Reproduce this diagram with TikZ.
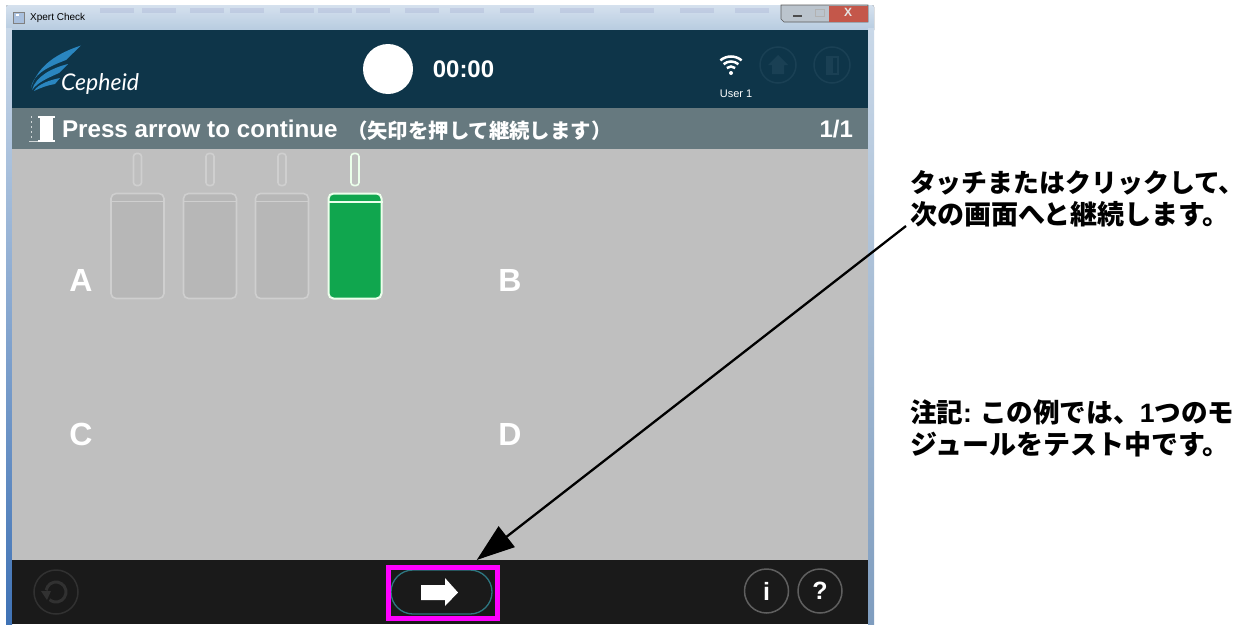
\documentclass[tikz,border=0pt]{standalone}
\usepackage{fontspec}
\setmainfont{Liberation Sans}
\newfontfamily\jp{Noto Sans CJK JP}
\newfontfamily\logofont{Lato}
\usetikzlibrary{arrows.meta,calc}
\definecolor{hdr}{HTML}{0E3549}
\definecolor{bar}{HTML}{66797F}
\definecolor{body}{HTML}{BFBFBF}
\definecolor{blk}{HTML}{1A1A1A}
\definecolor{grn}{HTML}{10A64E}
\definecolor{tubefill}{HTML}{B7B7B7}
\definecolor{tubeline}{HTML}{CFCFCF}
\definecolor{dimring}{HTML}{1A4054}
\definecolor{logoblue}{HTML}{2A86C0}
\definecolor{mag}{HTML}{FF00FF}
\definecolor{framepale}{HTML}{C9D8E8}
\definecolor{frameblue}{HTML}{3F72B5}
\definecolor{frameright}{HTML}{7F9DBF}
\definecolor{titletop}{HTML}{D5E1EE}
\definecolor{titlebot}{HTML}{B5CADF}
\definecolor{closered}{HTML}{C4574A}
\tikzset{
  txt/.style={inner sep=0pt,outer sep=0pt,text=white,font=\bfseries},
  note/.style={inner sep=0pt,outer sep=0pt,anchor=west,text=black,font=\fontsize{27}{31}\selectfont\bfseries},
  tubebox/.style={draw=tubeline,fill=tubefill,line width=1.6pt,rounded corners=5pt,minimum width=53pt,minimum height=105pt,inner sep=0pt},
  pillbox/.style={draw=tubeline,line width=1.6pt,rounded corners=3pt,minimum width=8pt,minimum height=32pt,inner sep=0pt},
  letter/.style={txt,font=\fontsize{32}{32}\selectfont\bfseries},
  ring/.style={circle,line width=1.5pt,minimum size=#1,inner sep=0pt},
}
\begin{document}
\begin{tikzpicture}[x=1pt,y=-1pt]
\useasboundingbox (0,0) rectangle (1248,624);
\fill[white] (0,0) rectangle (1248,624);
% window frame
\fill[top color=titletop,bottom color=titlebot,rounded corners=2pt] (6,5) rectangle (874,32);
\foreach \sx in {100,142,190,230,280,318,356,405,450,500,560,620,680,735}
  \fill[gray!70!blue,opacity=.12] (\sx,8) rectangle ++(34,5);
\fill[top color=framepale,bottom color=frameblue] (6,28) rectangle (12,624);
\fill[top color=framepale,bottom color=frameright] (868,28) rectangle (874,624);
\fill[hdr] (12,30) rectangle (868,108);
\fill[bar] (12,108) rectangle (868,149);
\fill[body] (12,149) rectangle (868,560);
\fill[blk] (12,560) rectangle (868,624);
% title bar
\node[draw=gray,fill=frameblue!45,minimum size=11pt,inner sep=0pt,line width=.5pt] (appicon) at (19,18) {};
\fill[white] (16,13.5) rectangle (19,16);
\node[inner sep=0pt,anchor=west,font=\fontsize{10}{10}\selectfont] (title) at (30,18) {Xpert Check};
\fill[titletop!70!gray,draw=gray!70!black,line width=.6pt] (781,5) -- (781,19) -- (784,22) -- (868,22) -- (868,5) -- cycle;
\fill[closered] (829,5.5) rectangle (867.5,21.5);
\draw[gray!60!black,line width=2pt] (793,16) -- (802,16);
\draw[gray!60,line width=.8pt] (815,9) rectangle (824,16);
\node[txt,font=\fontsize{12}{12}\selectfont\bfseries,text=white!90!black] (closex) at (848,12.5) {X};
% logo
\fill[logoblue] (81,45.5) .. controls (58,53) and (38,65) .. (31,88) .. controls (33,75) and (45,68) .. (66,60) -- cycle;
\fill[logoblue] (68,64) .. controls (52,68) and (36,76) .. (32,90) .. controls (38,82) and (48,78) .. (59,73) -- cycle;
\fill[logoblue] (60,78) .. controls (50,80) and (38,84) .. (34,91) .. controls (40,88) and (48,85) .. (55,84) -- cycle;
\node[inner sep=0pt,text=white,font=\logofont\itshape\fontsize{23}{23}\selectfont] (logo) at (100,84) {Cepheid};
% header
\node[circle,fill=white,minimum size=50pt,inner sep=0pt] (dot) at (388,69) {};
\node[txt,font=\fontsize{24}{24}\selectfont\bfseries] (time) at (463.5,69) {00:00};
\node[inner sep=0pt,minimum size=1pt] (wifi) at (731,73) {};
\fill[white] (wifi) circle (2pt);
\foreach \r in {6.5,11.5,16.5}
  \draw[white,line width=2.5pt] ($(wifi)+({cos(130)*\r},{-sin(130)*\r})$) arc[start angle=130,end angle=50,radius=\r pt];
\node[txt,font=\fontsize{11}{11}\selectfont] (user) at (736,94) {User 1};
\node[ring=36pt,draw=dimring] (home) at (778,65) {};
\fill[dimring] (778,55) -- (768,65) -- (772,65) -- (772,74) -- (784,74) -- (784,65) -- (788,65) -- cycle;
\node[ring=36pt,draw=dimring] (exit) at (832,65) {};
\fill[dimring] (826,56) rectangle (839,75);
\fill[hdr] (833,58) rectangle (837,73);
% bar
\node[inner sep=0pt,fill=white,minimum width=13pt,minimum height=26pt] (cart) at (46.5,128.5) {};
\fill[white] (38,115.5) rectangle (55,118);
\fill[white] (38,139.5) rectangle (55,142);
\draw[white!70!bar,line width=1pt,dash pattern=on 1.5pt off 3.5pt] (31,116) -- (31,142);
\draw[white!70!bar,line width=1pt] (29,141.5) -- (38,141.5);
\node[txt,anchor=west,font=\fontsize{24.2}{24}\selectfont\bfseries] (press) at (62,129) {Press arrow to continue};
\node[txt,anchor=west,font=\jp\fontsize{20.4}{20}\selectfont\bfseries] (pressjp) at (347,131) {（矢印を押して継続します）};
\node[txt,anchor=east,font=\fontsize{24}{24}\selectfont\bfseries] (page) at (853,129) {1/1};
% tubes
\node[tubebox] (t1) at (137.5,246) {};
\node[tubebox] (t2) at (210,246) {};
\node[tubebox] (t3) at (282,246) {};
\node[tubebox,fill=grn,draw=white!92!green,line width=2pt] (t4) at (355,246) {};
\draw[tubeline,line width=1.4pt] (t1.north west|-0,201.5) -- (t1.north east|-0,201.5);
\draw[tubeline,line width=1.4pt] (t2.north west|-0,201.5) -- (t2.north east|-0,201.5);
\draw[tubeline,line width=1.4pt] (t3.north west|-0,201.5) -- (t3.north east|-0,201.5);
\draw[white!92!green,line width=2pt] (t4.north west|-0,201.5) -- (t4.north east|-0,201.5);
\node[pillbox] (p1) at (137.5,169.5) {};
\node[pillbox] (p2) at (210,169.5) {};
\node[pillbox] (p3) at (282,169.5) {};
\node[pillbox,draw=white!92!green] (p4) at (355,169.5) {};
\node[letter] (A) at (81,280) {A};
\node[letter] (B) at (510,280) {B};
\node[letter] (C) at (81,434) {C};
\node[letter] (D) at (510,434) {D};
% bottom
\node[ring=44pt,draw=white!10!blk] (reload) at (56,592) {};
\draw[white!10!blk,line width=3pt] ($(reload)+({cos(170)*10},{-sin(170)*10})$) arc[start angle=170,end angle=-130,radius=10pt];
\fill[white!10!blk] (41,591) -- (51,591) -- (47,600) -- cycle;
\node[ring=44pt,draw=white!30!blk] (info) at (766.5,591) {};
\node[txt,font=\fontsize{25}{25}\selectfont\bfseries] (i) at (info) {i};
\node[ring=44pt,draw=white!30!blk] (help) at (820,591) {};
\node[txt,font=\fontsize{25}{25}\selectfont\bfseries] (q) at (help) {?};
\node[draw=hdr!70!cyan!70!gray,line width=1.3pt,rounded corners=22pt,minimum width=101pt,minimum height=44pt,inner sep=0pt] (go) at (441.5,592) {};
\fill[white] (421,585) -- (445,585) -- (445,578) -- (458,592.5) -- (445,606) -- (445,600) -- (421,600) -- cycle;
\node[draw=mag,line width=5pt,minimum width=108.5pt,minimum height=51.5pt,inner sep=0pt] (hl) at (443,593.2) {};
% notes
\node[note,font=\fontsize{25.9}{31}\selectfont\bfseries] (callout1) at (910,183) {\jp タッチまたはクリックして、};
\node[note] (callout2) at (910,214) {\jp 次の画面へと継続します。};
\node[note,font=\fontsize{26.6}{31}\selectfont\bfseries] (note1) at (910,412) {\jp 注記{\rmfamily :} この例では、{\rmfamily 1}つのモ};
\node[note] (note2) at (910,444) {\jp ジュールをテスト中です。};
\coordinate (cfrom) at ($(callout2.west)+(-4,12)$);
\coordinate (cto) at ($(hl.north west)+(90.5,-5)$);
\draw[-{Triangle[length=38pt,width=26pt]},line width=2.3pt,black] (cfrom) -- (cto);
\end{tikzpicture}
\end{document}
